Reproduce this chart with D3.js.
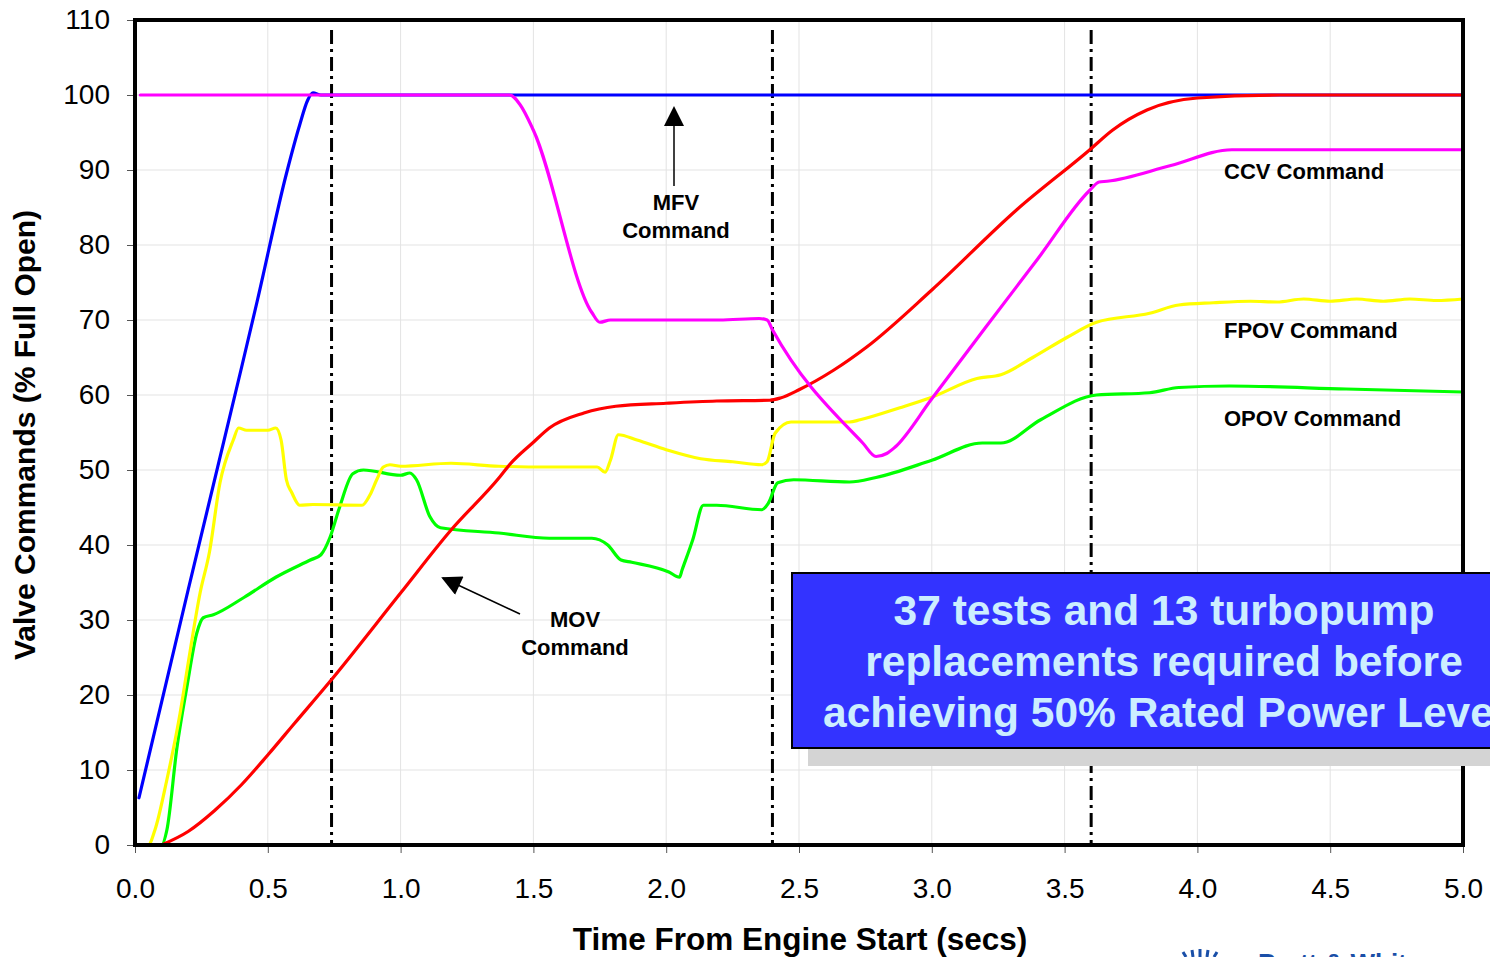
<!DOCTYPE html>
<html>
<head>
<meta charset="utf-8">
<script src="https://cdn.jsdelivr.net/npm/d3@7"></script>
<style>
  html, body { margin: 0; padding: 0; background: #fff; overflow: hidden; }
  svg { display: block; }
  text { font-family: Arial, "Liberation Sans", Helvetica, sans-serif; }
</style>
</head>
<body>
<svg id="chart" width="1490" height="957"></svg>
<script>
// ---------- data ----------
const xTicks = [0.0, 0.5, 1.0, 1.5, 2.0, 2.5, 3.0, 3.5, 4.0, 4.5, 5.0];
const yTicks = [0, 10, 20, 30, 40, 50, 60, 70, 80, 90, 100, 110];
const phaseMarkers = [0.74, 2.40, 3.60];

const mfv = [[0.015,6.3],[0.2,34],[0.4,63.5],[0.46,72.5],[0.57,89.5],[0.62,96],[0.65,99.3],[0.67,100.3],[0.70,100],[1.0,100],[2.0,100],[3.0,100],[4.0,100],[5.0,100]];

const ccv = [[0.02,100],[0.5,100],[1.0,100],[1.38,100],[1.41,100],[1.45,98.7],[1.50,95.3],[1.72,71],[1.75,69.7],[1.79,70],[2.0,70],[2.2,70],[2.35,70.2],[2.38,70],[2.40,68.7],[2.74,53.6],[2.79,51.8],[2.83,52.2],[2.86,53],[3.0,59.5],[3.2,68.9],[3.4,78.2],[3.595,87.3],[3.63,88.4],[3.66,88.5],[3.9,90.6],[4.13,92.7],[4.5,92.7],[5.0,92.7]];

const mov = [[0.10,0],[0.2,1.8],[0.3,4.6],[0.4,8.0],[0.5,12.0],[0.6,16.2],[0.734,21.8],[1.0,33.6],[1.19,42],[1.374,49.1],[1.41,50.7],[1.5,53.7],[1.56,55.6],[1.69,57.6],[1.81,58.5],[2.0,58.9],[2.19,59.2],[2.39,59.3],[2.43,59.6],[2.5,60.7],[2.63,63.3],[2.755,66.4],[3.0,74],[3.32,84.7],[3.595,92.7],[3.68,95.3],[3.81,98],[4.0,99.6],[4.31,100],[5.0,100]];

const fpov = [[0.01,0],[0.05,0],[0.075,2],[0.12,8.7],[0.17,17.6],[0.2,24.2],[0.245,33.6],[0.28,39],[0.32,48.3],[0.37,54],[0.39,55.6],[0.42,55.3],[0.5,55.3],[0.53,55.6],[0.55,54],[0.57,48.7],[0.59,47],[0.62,45.3],[0.67,45.4],[0.855,45.3],[0.885,46.7],[0.91,48.7],[0.935,50.4],[0.96,50.7],[1.0,50.5],[1.19,50.9],[1.37,50.5],[1.56,50.4],[1.74,50.4],[1.77,49.7],[1.79,51.3],[1.82,54.7],[1.89,54],[2.0,52.7],[2.13,51.5],[2.25,51.1],[2.36,50.7],[2.38,51.1],[2.41,54.9],[2.47,56.4],[2.69,56.4],[2.73,56.7],[2.88,58.3],[3.0,59.7],[3.17,62.2],[3.26,62.7],[3.38,65],[3.51,67.7],[3.62,69.7],[3.82,70.9],[3.93,72],[4.06,72.3],[4.2,72.5],[4.3,72.4],[4.4,72.8],[4.5,72.5],[4.6,72.8],[4.7,72.5],[4.8,72.8],[4.9,72.6],[5.0,72.8]];

const opov = [[0.0,0],[0.1,0],[0.12,2],[0.158,13],[0.195,21],[0.233,28.3],[0.257,30.3],[0.295,30.7],[0.41,33],[0.53,35.7],[0.66,38],[0.70,38.7],[0.734,41],[0.77,45],[0.82,49.5],[0.86,50],[1.0,49.3],[1.035,49.6],[1.06,48.7],[1.11,43.8],[1.15,42.3],[1.37,41.6],[1.56,40.9],[1.72,40.9],[1.78,40],[1.83,38],[1.87,37.7],[2.01,36.4],[2.05,35.7],[2.06,36.7],[2.1,40.7],[2.14,45.3],[2.19,45.3],[2.36,44.7],[2.385,45.6],[2.42,48.3],[2.48,48.7],[2.69,48.4],[2.79,49],[3.0,51.3],[3.19,53.6],[3.26,53.6],[3.41,56.7],[3.62,60],[3.82,60.3],[3.93,61],[4.12,61.2],[4.56,60.8],[5.0,60.4]];

const seriesColors = { mfv: "#0000FF", mov: "#FF0000", fpov: "#FFFF00", opov: "#00FF00", ccv: "#FF00FF" };

const xLabel = "Time From Engine Start (secs)";
const yLabel = "Valve Commands (% Full Open)";
const boxLines = ["37 tests and 13 turbopump", "replacements required before", "achieving 50% Rated Power Level"];

// ---------- layout ----------
const svg = d3.select("#chart");
const L = 135, R = 1463, T = 20, B = 845;
const x = d3.scaleLinear().domain([0, 5]).range([L, R]);
const y = d3.scaleLinear().domain([0, 110]).range([B, T]);

// gridlines
const grid = svg.append("g");
grid.selectAll("line.gx").data(xTicks.slice(1, -1)).join("line")
  .attr("x1", d => x(d)).attr("x2", d => x(d)).attr("y1", T).attr("y2", B)
  .attr("stroke", "#e3e3e3").attr("stroke-width", 1);
grid.selectAll("line.gy").data(yTicks.slice(1, -1)).join("line")
  .attr("x1", L).attr("x2", R).attr("y1", d => y(d)).attr("y2", d => y(d))
  .attr("stroke", "#e3e3e3").attr("stroke-width", 1);

// phase markers
svg.append("g").selectAll("line").data(phaseMarkers).join("line")
  .attr("x1", d => x(d)).attr("x2", d => x(d)).attr("y1", 30).attr("y2", B)
  .attr("stroke", "#000").attr("stroke-width", 3)
  .attr("stroke-dasharray", "14,5,3,5");

// axes
const xAxis = d3.axisBottom(x).tickValues(xTicks).tickFormat(d3.format(".1f")).tickSize(8).tickSizeOuter(0);
const yAxis = d3.axisLeft(y).tickValues(yTicks).tickFormat(d3.format("d")).tickSize(8).tickSizeOuter(0);
const gx = svg.append("g").attr("transform", `translate(0,${B})`).call(xAxis);
const gy = svg.append("g").attr("transform", `translate(${L},0)`).call(yAxis);
[gx, gy].forEach(g => {
  g.select(".domain").remove();
  g.selectAll(".tick line").attr("stroke", "#555").attr("stroke-width", 1);
  g.selectAll(".tick text").attr("font-size", 28).attr("fill", "#000")
    .attr("font-family", "Arial, 'Liberation Sans', sans-serif");
});
gx.selectAll(".tick text").attr("dy", "1.5em");
gy.selectAll(".tick text").attr("x", -25);

// lines
const line = d3.line().x(d => x(d[0])).y(d => y(d[1])).curve(d3.curveMonotoneX);
const plot = svg.append("g");
[["mfv", mfv], ["opov", opov], ["fpov", fpov], ["mov", mov], ["ccv", ccv]].forEach(([k, data]) => {
  plot.append("path").datum(data).attr("d", line)
    .attr("fill", "none").attr("stroke", seriesColors[k]).attr("stroke-width", 3.2)
    .attr("stroke-linejoin", "round").attr("stroke-linecap", "round");
});

// frame
svg.append("rect").attr("x", L).attr("y", T).attr("width", R - L).attr("height", B - T)
  .attr("fill", "none").attr("stroke", "#000").attr("stroke-width", 4);

// annotations
const ann = svg.append("g").attr("font-weight", "bold").attr("font-size", 22).attr("fill", "#000");
ann.append("text").attr("x", 676).attr("y", 210).attr("text-anchor", "middle").text("MFV");
ann.append("text").attr("x", 676).attr("y", 238).attr("text-anchor", "middle").text("Command");
ann.append("text").attr("x", 575).attr("y", 627).attr("text-anchor", "middle").text("MOV");
ann.append("text").attr("x", 575).attr("y", 655).attr("text-anchor", "middle").text("Command");
ann.append("text").attr("x", 1224).attr("y", 179).text("CCV Command");
ann.append("text").attr("x", 1224).attr("y", 338).text("FPOV Command");
ann.append("text").attr("x", 1224).attr("y", 426).text("OPOV Command");

// arrows
svg.append("defs").append("marker").attr("id", "ah").attr("viewBox", "0 0 10 10")
  .attr("refX", 9).attr("refY", 5).attr("markerWidth", 24).attr("markerHeight", 20)
  .attr("markerUnits", "userSpaceOnUse").attr("orient", "auto")
  .append("path").attr("d", "M0,0 L10,5 L0,10 z").attr("fill", "#000");
svg.append("line").attr("x1", 674).attr("y1", 186).attr("x2", 674).attr("y2", 108)
  .attr("stroke", "#000").attr("stroke-width", 1.5).attr("marker-end", "url(#ah)");
svg.append("line").attr("x1", 520).attr("y1", 614).attr("x2", 443).attr("y2", 578)
  .attr("stroke", "#000").attr("stroke-width", 1.5).attr("marker-end", "url(#ah)");

// axis titles
svg.append("text").attr("x", 800).attr("y", 950).attr("text-anchor", "middle")
  .attr("font-weight", "bold").attr("font-size", 31.5).text(xLabel);
svg.append("text").attr("transform", "translate(35,435) rotate(-90)").attr("text-anchor", "middle")
  .attr("font-weight", "bold").attr("font-size", 30).text(yLabel);

// callout box
svg.append("rect").attr("x", 808).attr("y", 590).attr("width", 700).attr("height", 176).attr("fill", "#d4d4d4");
svg.append("rect").attr("x", 792).attr("y", 573).attr("width", 720).attr("height", 175)
  .attr("fill", "#3333FF").attr("stroke", "#000").attr("stroke-width", 2);
const bt = svg.append("g").attr("font-weight", "bold").attr("font-size", 42.5).attr("fill", "#CCEEFF")
  .attr("font-family", "'Liberation Sans Narrow', 'Arial Narrow', Arial, sans-serif");
bt.append("text").attr("x", 1164).attr("y", 625).attr("text-anchor", "middle").text(boxLines[0]);
bt.append("text").attr("x", 1164).attr("y", 676).attr("text-anchor", "middle").text(boxLines[1]);
bt.append("text").attr("x", 823).attr("y", 727).attr("text-anchor", "start").text(boxLines[2]);

// logo peeking at the bottom
svg.append("text").attr("x", 1258).attr("y", 972).attr("font-weight", "bold").attr("font-size", 26)
  .attr("fill", "#1a4fa8").text("Pratt & Whitney");
const logo = svg.append("g").attr("stroke", "#1a4fa8").attr("stroke-width", 3);
[[1186, 957, 1183, 952], [1193, 957, 1192, 950], [1200, 957, 1200, 949], [1207, 957, 1208, 950], [1214, 957, 1217, 952]]
  .forEach(p => logo.append("line").attr("x1", p[0]).attr("y1", p[1]).attr("x2", p[2]).attr("y2", p[3]));
</script>
</body>
</html>
